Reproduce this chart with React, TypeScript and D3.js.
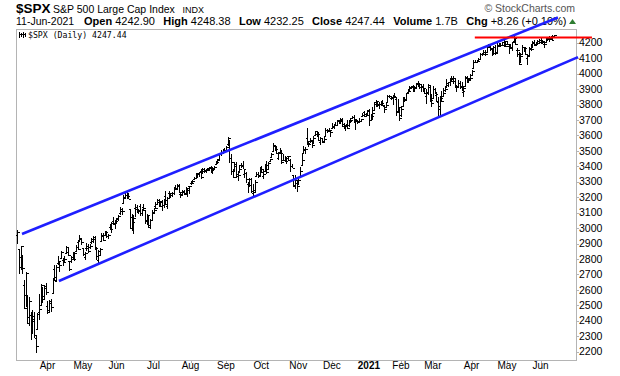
import React from "react";
import * as d3 from "d3";

// [day, open, high, low, close]
const mar2020 = [[6,2954,2985,2901,2972],[9,2863,2863,2707,2746],[10,2813,2882,2734,2882],[11,2825,2825,2707,2741],[12,2630,2660,2478,2481],[13,2569,2711,2492,2711],[16,2508,2562,2381,2386],[17,2426,2553,2367,2529],[18,2436,2453,2281,2398],[19,2394,2467,2319,2409],[20,2431,2454,2295,2305],[23,2290,2301,2192,2237],[24,2345,2449,2345,2447],[25,2458,2571,2407,2476],[26,2501,2638,2500,2630],[27,2556,2616,2520,2541],[30,2558,2631,2545,2627],[31,2614,2641,2572,2585]];
const apr2020 = [[1,2498,2522,2447,2471],[2,2459,2529,2455,2527],[3,2514,2538,2459,2489],[6,2578,2677,2575,2664],[7,2738,2756,2658,2660],[8,2685,2760,2664,2750],[9,2776,2818,2762,2790],[13,2782,2782,2721,2762],[14,2805,2851,2805,2846],[15,2796,2801,2761,2783],[16,2800,2816,2775,2800],[17,2842,2880,2842,2875],[20,2845,2868,2820,2823],[21,2785,2785,2727,2737],[22,2787,2815,2775,2799],[23,2810,2844,2794,2798],[24,2813,2842,2791,2837],[27,2855,2887,2852,2878],[28,2909,2922,2860,2863],[29,2918,2955,2912,2939],[30,2931,2931,2892,2912]];
const may2020 = [[1,2869,2870,2822,2831],[4,2815,2844,2798,2842],[5,2868,2898,2853,2868],[6,2883,2891,2844,2849],[7,2879,2892,2870,2882],[8,2908,2932,2902,2930],[11,2915,2944,2904,2930],[12,2940,2945,2869,2870],[13,2865,2874,2794,2820],[14,2794,2852,2767,2852],[15,2829,2865,2821,2864],[18,2914,2968,2914,2954],[19,2948,2965,2922,2923],[20,2953,2981,2953,2972],[21,2970,2978,2938,2949],[22,2948,2956,2933,2955],[26,3004,3021,2988,2992],[27,3016,3036,2970,3036],[28,3046,3068,3023,3030],[29,3025,3049,2999,3044]];
const jun2020 = [[1,3038,3063,3032,3056],[2,3064,3081,3051,3080],[3,3098,3131,3091,3123],[4,3112,3129,3091,3112],[5,3163,3212,3163,3194],[8,3199,3233,3197,3232],[9,3213,3222,3193,3207],[10,3213,3224,3190,3190],[11,3123,3123,2999,3002],[12,3072,3089,2984,3041],[15,2994,3080,2966,3067],[16,3131,3154,3077,3125],[17,3137,3144,3109,3113],[18,3101,3120,3093,3115],[19,3140,3155,3084,3098],[22,3095,3120,3079,3118],[23,3138,3155,3122,3131],[24,3114,3115,3033,3050],[25,3047,3086,3024,3084],[26,3073,3074,3005,3009],[29,3018,3053,2999,3053],[30,3050,3111,3047,3100]];
const jul2020 = [[1,3105,3128,3101,3116],[2,3143,3165,3124,3130],[6,3155,3182,3155,3180],[7,3166,3184,3142,3145],[8,3154,3171,3137,3169],[9,3176,3179,3116,3152],[10,3152,3186,3136,3185],[13,3206,3236,3154,3155],[14,3142,3200,3128,3197],[15,3225,3238,3200,3227],[16,3209,3220,3198,3216],[17,3225,3233,3205,3225],[20,3224,3258,3215,3251],[21,3268,3277,3247,3257],[22,3254,3279,3253,3276],[23,3272,3280,3229,3236],[24,3218,3227,3200,3216],[27,3219,3242,3215,3239],[28,3234,3243,3216,3218],[29,3227,3264,3227,3258],[30,3231,3250,3205,3246],[31,3270,3272,3221,3271]];
const aug2020 = [[3,3289,3302,3284,3295],[4,3289,3306,3287,3306],[5,3318,3330,3317,3327],[6,3324,3352,3318,3349],[7,3340,3352,3329,3351],[10,3357,3363,3335,3360],[11,3370,3381,3323,3333],[12,3355,3387,3355,3380],[13,3372,3388,3363,3373],[14,3368,3378,3362,3373],[17,3380,3388,3373,3382],[18,3387,3395,3370,3390],[19,3393,3400,3369,3375],[20,3360,3391,3354,3385],[21,3386,3399,3380,3397],[24,3418,3432,3414,3431],[25,3435,3444,3421,3443],[26,3449,3482,3444,3479],[27,3486,3501,3468,3485],[28,3495,3509,3485,3508],[31,3509,3514,3494,3500]];
const sep2020 = [[1,3507,3528,3494,3527],[2,3544,3588,3535,3580],[3,3564,3564,3427,3455],[4,3453,3479,3349,3427],[8,3371,3379,3330,3332],[9,3369,3425,3366,3399],[10,3412,3425,3329,3339],[11,3352,3368,3310,3341],[14,3364,3403,3363,3383],[15,3407,3419,3389,3401],[16,3411,3429,3384,3385],[17,3347,3375,3328,3357],[18,3357,3363,3293,3320],[21,3285,3286,3229,3281],[22,3296,3320,3270,3316],[23,3320,3324,3232,3237],[24,3226,3279,3210,3247],[25,3236,3306,3228,3298],[28,3334,3360,3332,3351],[29,3350,3357,3327,3335],[30,3341,3393,3340,3363]];
const oct2020 = [[1,3385,3397,3362,3381],[2,3338,3370,3324,3348],[5,3367,3409,3367,3408],[6,3408,3432,3354,3361],[7,3384,3426,3384,3419],[8,3434,3447,3428,3447],[9,3459,3482,3459,3477],[12,3500,3549,3500,3535],[13,3534,3534,3500,3512],[14,3515,3527,3480,3489],[15,3453,3489,3441,3483],[16,3493,3516,3483,3484],[19,3493,3502,3419,3427],[20,3439,3476,3435,3443],[21,3440,3465,3433,3436],[22,3438,3460,3415,3453],[23,3464,3466,3440,3465],[26,3441,3441,3364,3401],[27,3403,3410,3389,3391],[28,3342,3342,3268,3271],[29,3278,3342,3259,3310],[30,3293,3304,3234,3270]];
const nov2020 = [[2,3296,3330,3279,3310],[3,3336,3389,3336,3370],[4,3406,3486,3405,3443],[5,3485,3529,3485,3510],[6,3508,3521,3484,3509],[9,3583,3646,3543,3551],[10,3543,3558,3526,3545],[11,3563,3581,3557,3572],[12,3563,3570,3519,3538],[13,3552,3593,3552,3585],[16,3601,3628,3600,3627],[17,3611,3624,3595,3610],[18,3612,3619,3567,3568],[19,3559,3585,3544,3582],[20,3580,3582,3556,3558],[23,3566,3589,3552,3577],[24,3594,3642,3594,3635],[25,3634,3635,3617,3630],[27,3638,3644,3630,3638],[30,3634,3634,3594,3622]];
const dec2020 = [[1,3645,3679,3645,3662],[2,3653,3670,3645,3669],[3,3669,3682,3661,3666],[4,3670,3699,3670,3699],[7,3694,3697,3679,3692],[8,3683,3708,3679,3702],[9,3706,3712,3660,3673],[10,3659,3678,3646,3668],[11,3656,3665,3634,3663],[14,3675,3697,3645,3647],[15,3667,3695,3660,3695],[16,3696,3711,3685,3702],[17,3713,3725,3710,3722],[18,3722,3726,3685,3709],[21,3684,3702,3636,3695],[22,3698,3698,3676,3687],[23,3693,3711,3689,3690],[24,3694,3703,3690,3703],[28,3723,3740,3723,3735],[29,3750,3756,3723,3727],[30,3736,3744,3730,3732],[31,3733,3760,3726,3756]];
const jan2021 = [[4,3764,3770,3663,3701],[5,3699,3738,3696,3727],[6,3712,3783,3705,3748],[7,3764,3811,3764,3804],[8,3815,3826,3784,3825],[11,3803,3817,3789,3799],[12,3801,3810,3777,3801],[13,3802,3820,3792,3810],[14,3814,3823,3792,3796],[15,3788,3796,3750,3768],[19,3782,3804,3780,3798],[20,3816,3859,3816,3852],[21,3857,3861,3845,3853],[22,3845,3852,3831,3841],[25,3851,3860,3797,3855],[26,3862,3870,3847,3849],[27,3837,3837,3732,3751],[28,3755,3830,3755,3787],[29,3778,3778,3694,3714]];
const feb2021 = [[1,3732,3784,3725,3774],[2,3791,3843,3791,3826],[3,3840,3848,3817,3830],[4,3836,3872,3830,3872],[5,3878,3894,3874,3887],[8,3893,3915,3892,3915],[9,3910,3919,3904,3911],[10,3921,3926,3885,3910],[11,3916,3917,3883,3916],[12,3912,3934,3903,3934],[16,3940,3950,3923,3933],[17,3919,3933,3901,3932],[18,3915,3921,3885,3913],[19,3921,3931,3884,3907],[22,3885,3902,3868,3876],[23,3857,3895,3805,3881],[24,3873,3928,3866,3925],[25,3915,3926,3817,3829],[26,3839,3862,3789,3811]];
const mar2021 = [[1,3842,3914,3842,3901],[2,3903,3906,3868,3870],[3,3863,3875,3819,3820],[4,3818,3843,3723,3768],[5,3793,3851,3730,3842],[8,3844,3882,3821,3821],[9,3852,3903,3852,3875],[10,3891,3918,3885,3898],[11,3915,3960,3915,3939],[12,3924,3944,3915,3943],[15,3943,3970,3923,3969],[16,3974,3981,3949,3963],[17,3949,3983,3935,3974],[18,3953,3969,3910,3915],[19,3914,3921,3885,3913],[22,3917,3955,3915,3941],[23,3937,3949,3901,3911],[24,3919,3943,3889,3889],[25,3879,3919,3854,3910],[26,3917,3978,3917,3975],[29,3969,3981,3944,3971],[30,3963,3968,3944,3959],[31,3967,3994,3967,3973]];
const apr2021 = [[1,3993,4021,3993,4020],[5,4034,4083,4034,4078],[6,4075,4087,4069,4074],[7,4075,4083,4069,4080],[8,4090,4099,4082,4097],[9,4096,4129,4095,4129],[12,4124,4131,4114,4127],[13,4131,4148,4124,4141],[14,4141,4151,4120,4125],[15,4140,4173,4140,4170],[16,4174,4191,4171,4185],[19,4180,4180,4150,4163],[20,4159,4160,4118,4135],[21,4129,4175,4126,4173],[22,4170,4179,4123,4135],[23,4139,4194,4139,4180],[26,4185,4194,4182,4188],[27,4187,4193,4176,4187],[28,4185,4201,4181,4184],[29,4206,4219,4177,4211],[30,4199,4199,4174,4181]];
const may2021 = [[3,4192,4209,4188,4193],[4,4179,4179,4128,4165],[5,4177,4188,4161,4168],[6,4170,4202,4147,4202],[7,4210,4238,4202,4233],[10,4228,4236,4188,4189],[11,4150,4162,4111,4152],[12,4130,4135,4057,4063],[13,4074,4131,4074,4113],[14,4130,4183,4130,4174],[17,4169,4172,4143,4164],[18,4165,4170,4125,4128],[19,4099,4116,4062,4116],[20,4121,4172,4121,4160],[21,4168,4188,4151,4156],[24,4170,4210,4170,4198],[25,4205,4213,4182,4188],[26,4191,4202,4188,4196],[27,4201,4213,4191,4201],[28,4210,4219,4203,4204]];
const jun2021 = [[1,4217,4234,4197,4202],[2,4207,4215,4198,4208],[3,4191,4204,4168,4193],[4,4207,4234,4206,4230],[7,4229,4232,4215,4227],[8,4234,4237,4211,4227],[9,4233,4237,4219,4220],[10,4229,4249,4220,4239],[11,4243,4248,4232,4247]];

const monthKeys = ["2020-03","2020-04","2020-05","2020-06","2020-07","2020-08","2020-09","2020-10","2020-11","2020-12","2021-01","2021-02","2021-03","2021-04","2021-05","2021-06"];
const monthData = [mar2020,apr2020,may2020,jun2020,jul2020,aug2020,sep2020,oct2020,nov2020,dec2020,jan2021,feb2021,mar2021,apr2021,may2021,jun2021];
const monthNames = ["Jan","Feb","Mar","Apr","May","Jun","Jul","Aug","Sep","Oct","Nov","Dec"];

const yTicks = [2200,2300,2400,2500,2600,2700,2800,2900,3000,3100,3200,3300,3400,3500,3600,3700,3800,3900,4000,4100,4200];

// trend lines: [bar index, price]
const upperChannel = [[2.85, 2962],[321.3, 4363]];
const lowerChannel = [[24.8, 2658],[333.2, 4107]];
const resistance = [[271.9, 4233],[341.5, 4233]];

const headerLabels = ["Open","High","Low","Close","Volume","Chg"];
const headerValues = ["4242.90","4248.38","4232.25","4247.44","1.7B","+8.26 (+0.19%)"];

type Bar = { key: string; month: number; year: number; o: number; h: number; l: number; c: number };

const bars: Bar[] = [];
monthKeys.forEach((k, mi) => {
  const [yy, mm] = k.split("-").map(Number);
  monthData[mi].forEach((r) => {
    bars.push({ key: `${k}-${r[0]}`, year: yy, month: mm - 1, o: r[1], h: r[2], l: r[3], c: r[4] });
  });
});

const W = 620, H = 376;
const L = 16, R = 576, T = 29, B = 360;

export default function App() {
  const x = d3.scaleLinear().domain([0, bars.length - 1]).range([17.2, 17.2 + (bars.length - 1) * 1.683]);
  const y = d3.scaleLinear().domain([2200, 4200]).range([351.7, 42.7]);

  const monthTicks: { i: number; label: string; bold: boolean }[] = [];
  bars.forEach((b, i) => {
    if (i > 0 && bars[i - 1].month !== b.month) {
      const isJan = b.month === 0;
      monthTicks.push({ i, label: isJan ? String(b.year) : monthNames[b.month], bold: isJan });
    }
  });

  const line = d3.line<number[]>().x((d) => x(d[0])).y((d) => y(d[1]));
  const font = "'Liberation Sans', Arial, sans-serif";

  return (
    <svg width={W} height={H} style={{ position: "absolute", left: 0, top: 0, background: "#fff" }} fontFamily={font}>
      <rect x={0} y={0} width={W} height={H} fill="#fff" />
      {/* header */}
      <text x={16} y={13} fontSize={13.5} fontWeight="bold" fill="#000">$SPX</text>
      <text x={53} y={13} fontSize={10.5} fill="#000">S&amp;P 500 Large Cap Index</text>
      <text x={182.5} y={13} fontSize={9} fill="#000">INDX</text>
      <text x={575} y={12} fontSize={10.5} fill="#555" textAnchor="end">© StockCharts.com</text>
      <text x={16} y={25} fontSize={10.5} fill="#000">11-Jun-2021</text>
      <text x={84} y={25} fontSize={11} fill="#000">
        {headerLabels.map((lab, i) => (
          <React.Fragment key={lab}>
            <tspan fontWeight="bold" dx={i === 0 ? 0 : 5.3}>{(i === 0 ? "" : " ") + lab}</tspan>
            <tspan>{" " + headerValues[i]}</tspan>
          </React.Fragment>
        ))}
      </text>
      <path d="M569,24 L572.5,19 L576,24 Z" fill="#2e7d32" />

      {/* plot frame */}
      <rect x={L + 0.5} y={T + 0.5} width={R - L} height={B - T} fill="none" stroke="#b4b4b4" strokeWidth={1} />

      {/* legend */}
      <g stroke="#000" strokeWidth={1} shapeRendering="crispEdges">
        <line x1={19.5} y1={32} x2={19.5} y2={38} />
        <line x1={21.5} y1={33} x2={21.5} y2={37} />
        <line x1={23.5} y1={32} x2={23.5} y2={38} />
        <line x1={25.5} y1={33} x2={25.5} y2={37} />
        <line x1={19} y1={34.5} x2={26} y2={34.5} />
      </g>
      <text x={28} y={38} fontSize={8.2} fontFamily="'DejaVu Sans Mono', monospace" fill="#000">$SPX (Daily) 4247.44</text>

      {/* y axis */}
      {yTicks.map((t) => (
        <g key={t}>
          <line x1={R} x2={R + 3} y1={Math.round(y(t)) + 0.5} y2={Math.round(y(t)) + 0.5} stroke="#b4b4b4" />
          <text x={R + 3} y={y(t)} dy="0.35em" fontSize={10.5} fill="#000">{t}</text>
        </g>
      ))}

      {/* x axis */}
      {monthTicks.map((m) => (
        <g key={m.i}>
          <line x1={Math.round(x(m.i)) + 0.5} x2={Math.round(x(m.i)) + 0.5} y1={B} y2={B + 3} stroke="#b4b4b4" />
          <text x={x(m.i)} y={369} fontSize={10} textAnchor="middle" fontWeight={m.bold ? "bold" : "normal"} fill="#000">{m.label}</text>
        </g>
      ))}

      {/* OHLC bars */}
      <g stroke="#000" shapeRendering="crispEdges">
        {bars.map((b, i) => {
          const cx = Math.round(x(i)) + 0.5;
          return (
            <g key={b.key}>
              <line x1={cx} x2={cx} y1={y(b.h) - 0.5} y2={y(b.l) + 0.5} strokeWidth={1.5} />
              <line x1={cx - 1.5} x2={cx} y1={Math.round(y(b.o)) + 0.5} y2={Math.round(y(b.o)) + 0.5} strokeWidth={1.2} />
              <line x1={cx} x2={cx + 2} y1={Math.round(y(b.c)) + 0.5} y2={Math.round(y(b.c)) + 0.5} strokeWidth={1.2} />
            </g>
          );
        })}
      </g>

      {/* annotation lines */}
      <path d={line(upperChannel) || ""} stroke="#1f1fff" strokeWidth={2.6} fill="none" />
      <path d={line(lowerChannel) || ""} stroke="#1f1fff" strokeWidth={2.6} fill="none" />
      <path d={line(resistance) || ""} stroke="#ff0000" strokeWidth={2} fill="none" />
    </svg>
  );
}
